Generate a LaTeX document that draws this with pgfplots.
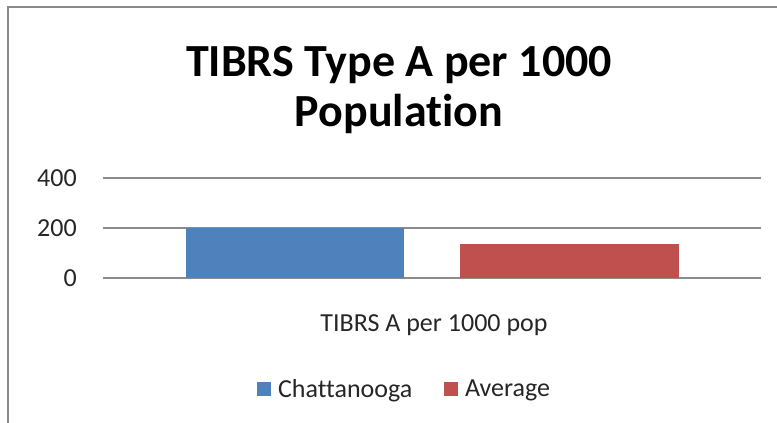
\documentclass[border=0pt]{standalone}
\usepackage{fontspec}
\setmainfont{Carlito}[Ligatures=NoCommon]
\usepackage{pgfplots}
\pgfplotsset{compat=1.18}

\definecolor{xlblue}{HTML}{4F81BD}
\definecolor{xlred}{HTML}{C0504D}
\definecolor{xlgrid}{HTML}{8C8C8C}
\definecolor{xlframe}{HTML}{8A8A8A}

% legend square, 14px with a 7px gap before the text
\pgfplotsset{sq legend/.style={legend image code/.code={%
  \fill[##1,draw=none] (0pt,-5.25pt) rectangle (10.5pt,5.25pt);
  \path (15.5pt,0pt);}}}

\begin{document}
\begin{tikzpicture}
% 1px = 0.75pt, origin at the top left corner of the picture
\clip (0,0) rectangle (582.75pt,-317.25pt);
\draw[xlframe, line width=1.5pt] (6pt,-400pt) -- (6pt,-5.25pt) -- (700pt,-5.25pt);

\node[font=\fontsize{34.5}{37.5}\selectfont\bfseries, anchor=base, inner sep=0pt]
  at (299.25pt,-57.75pt) {TIBRS Type A per 1000};
\node[font=\fontsize{34.5}{37.5}\selectfont\bfseries, anchor=base, inner sep=0pt]
  at (299.25pt,-95.25pt) {Population};

\begin{axis}[
  at={(77.25pt,-208.5pt)}, anchor=south west,
  width=493.5pt, height=75pt, scale only axis,
  xmin=-1, xmax=1, ymin=0, ymax=400,
  ytick={0,200,400},
  xtick={0}, xticklabels={TIBRS A per 1000 pop},
  ymajorgrids, grid style={xlgrid, line width=0.9pt},
  axis line style={draw=none},
  major tick length=0pt,
  /pgf/number format/assume math mode=true,
  ticklabel style={font=\fontsize{19.5}{23}\selectfont, text=black!85},
  yticklabel style={anchor=east, inner sep=0pt, xshift=-19.5pt},
  xticklabel style={anchor=north, inner sep=0pt, yshift=-27pt, xshift=1.5pt},
  legend style={at={(0.457,-1.11)}, anchor=center, draw=none, fill=none,
    legend columns=2, font=\fontsize{19.5}{23}\selectfont,
    nodes={inner sep=0pt, anchor=west, text=black!85},
    /tikz/every even column/.append style={column sep=24pt}},
]
\addplot[ybar, bar width=0.663, bar shift=0pt, fill=xlblue, draw=none, sq legend]
  coordinates {(-0.4164,200)};
\addplot[ybar, bar width=0.663, bar shift=0pt, fill=xlred, draw=none, sq legend]
  coordinates {(0.418,136)};
\legend{Chattanooga,Average}
\end{axis}
\end{tikzpicture}
\end{document}
